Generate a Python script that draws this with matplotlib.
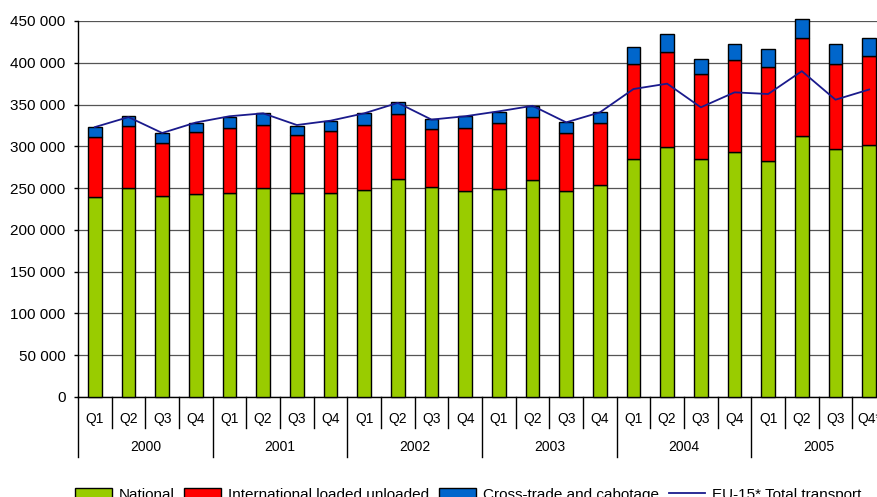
import numpy as np
import matplotlib
matplotlib.use('Agg')
from matplotlib import pyplot as plt
from matplotlib.ticker import FuncFormatter
from matplotlib.patches import Patch
from matplotlib.lines import Line2D

plt.rcParams['font.family'] = ['Liberation Sans', 'DejaVu Sans']

years = ['2000', '2001', '2002', '2003', '2004', '2005']
quarters = ['Q1', 'Q2', 'Q3', 'Q4'] * 5 + ['Q1', 'Q2', 'Q3', 'Q4*']

# top of each stacked segment (thousand tonne-km)
national = [239, 250, 240.5, 242.5, 244, 250, 244, 244,
            248, 261, 251.3, 246, 248.4, 259.3, 246, 253.7,
            284.5, 299, 284.5, 293.6, 282.4, 312, 296.8, 301]
intl_top = [311.5, 324, 304, 317, 322.5, 326, 313.5, 318.7,
            326, 339, 320.7, 322.4, 328.3, 335.4, 316, 327.9,
            399, 413, 386, 403, 395, 429.6, 399, 408.5]
cross_top = [323, 336, 315.5, 328, 335.5, 339.5, 324.7, 330,
             339.5, 352.6, 332.3, 335.8, 341, 348.6, 328.7, 340.6,
             419, 434, 404.5, 423, 417, 452.8, 423, 430]
eu15_total = [323, 335, 316, 328.5, 336, 339.5, 325.5, 330.7,
              339.5, 352, 332, 336, 341.9, 348.5, 328.7, 340.6,
              368.6, 375, 346.7, 364.6, 362.6, 390, 355.8, 368]

national = np.array(national) * 1000
intl = np.array(intl_top) * 1000 - national
cross = np.array(cross_top) * 1000 - np.array(intl_top) * 1000
eu15 = np.array(eu15_total) * 1000

green = '#99cc00'
red = '#ff0000'
blue = '#0066cc'
navy = '#1a1a8c'

fig = plt.figure(figsize=(8.77, 4.97), dpi=100)
ax = fig.add_axes([78 / 877, 100 / 497, 808 / 877, 376 / 497])

x = np.arange(len(national))
w = 0.4
ax.bar(x, national, w, color=green, edgecolor='black', linewidth=1, zorder=3, clip_on=False)
ax.bar(x, intl, w, bottom=national, color=red, edgecolor='black', linewidth=1, zorder=3, clip_on=False)
ax.bar(x, cross, w, bottom=national + intl, color=blue, edgecolor='black', linewidth=1, zorder=3, clip_on=False)
ax.plot(x, eu15, color=navy, lw=1.3, zorder=4)

ax.set_xlim(-0.5, len(x) - 0.5)
ax.set_ylim(0, 450000)
ax.set_yticks(np.arange(0, 450001, 50000))
ax.yaxis.set_major_formatter(FuncFormatter(lambda v, p: '{:,.0f}'.format(v).replace(',', ' ')))
ax.tick_params(axis='y', labelsize=11, length=3, width=1, pad=6)
ax.yaxis.grid(True, color='#555555', lw=0.9, zorder=0)
ax.set_axisbelow(True)

for s in ['top', 'right']:
    ax.spines[s].set_visible(False)
ax.spines['left'].set_linewidth(1)
ax.spines['bottom'].set_linewidth(1)

# two level category axis
ax.set_xticks([])
tr = ax.get_xaxis_transform()
for k in range(len(x) + 1):
    xb = k - 0.5
    depth = -0.1596 if k % 4 == 0 else -0.0824
    ax.plot([xb, xb], [0, depth], color='black', lw=1, transform=tr, clip_on=False)
for i, q in enumerate(quarters):
    ax.text(i, -0.0585, q, transform=tr, ha='center', va='center', fontsize=10)
for j, yr in enumerate(years):
    ax.text(4 * j + 1.5, -0.133, yr, transform=tr, ha='center', va='center', fontsize=10)

handles = [Patch(facecolor=green, edgecolor='black', label='National'),
           Patch(facecolor=red, edgecolor='black', label='International loaded unloaded'),
           Patch(facecolor=blue, edgecolor='black', label='Cross-trade and cabotage'),
           Line2D([], [], color=navy, lw=1.3, label='EU-15* Total transport')]
fig.legend(handles=handles, loc='center', bbox_to_anchor=(0.534, 0.005), ncol=4,
           frameon=False, fontsize=11, handlelength=2.4, handleheight=0.6,
           handletextpad=0.45, columnspacing=0.65, borderpad=0.2)

fig.savefig('out.png', dpi=100)
